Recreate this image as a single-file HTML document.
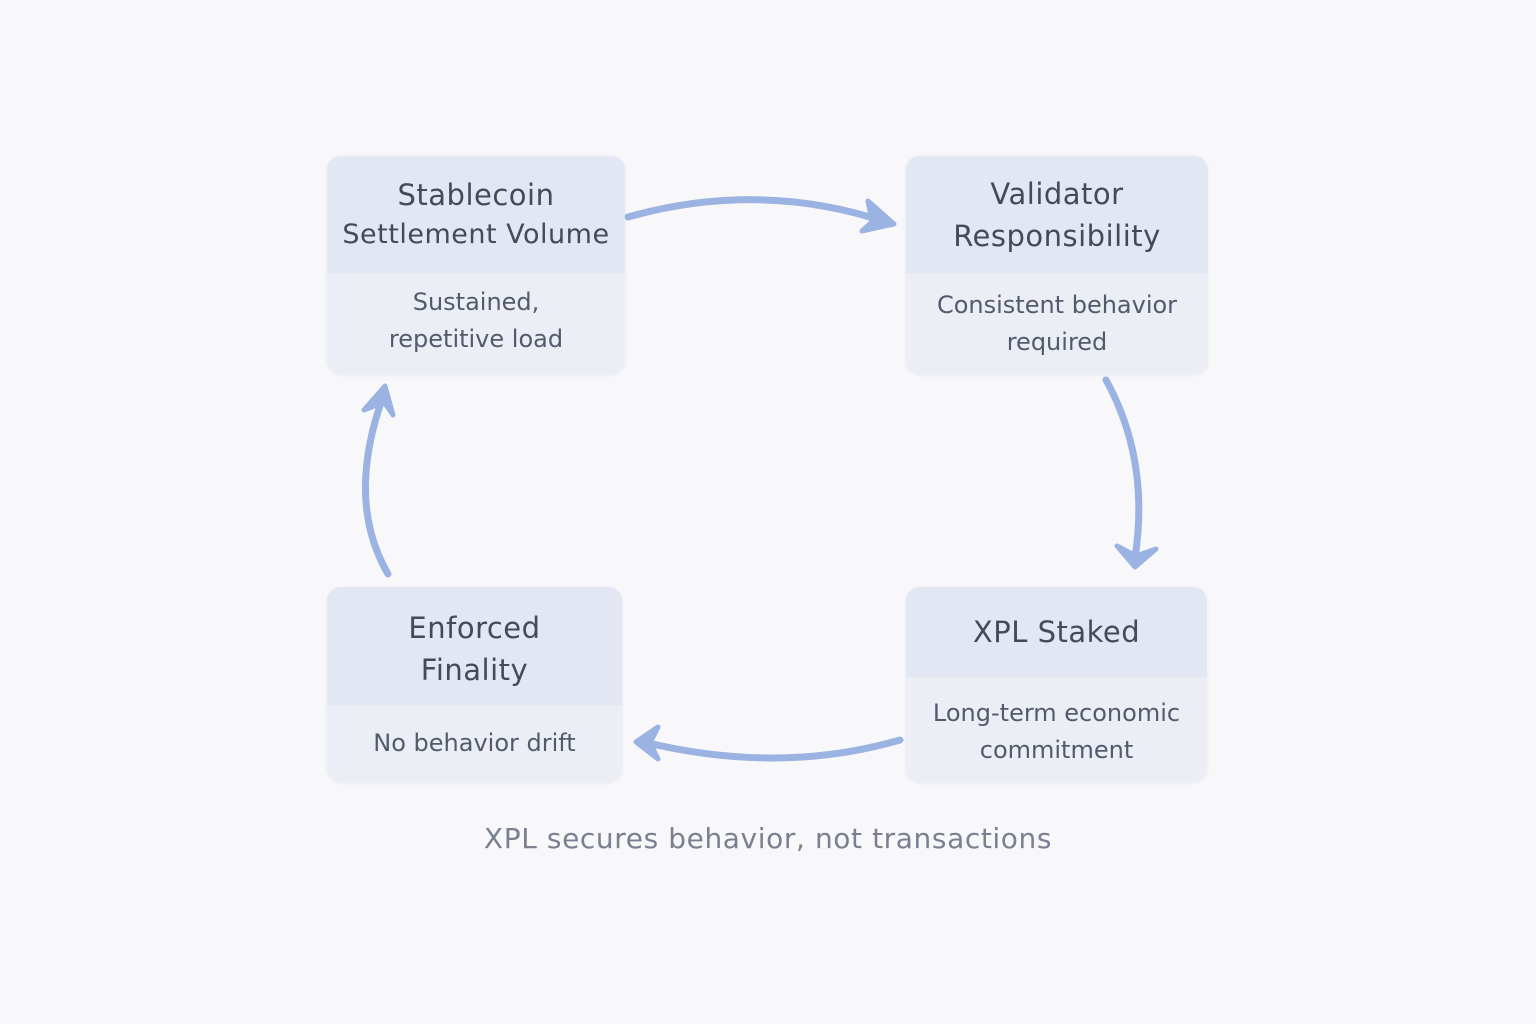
<!DOCTYPE html>
<html><head><meta charset="utf-8"><style>
html,body{margin:0;padding:0}
body{width:1536px;height:1024px;background:#f8f7fa;position:relative;overflow:hidden;font-family:"DejaVu Sans","Liberation Sans",sans-serif;color:#434a5c}
.box{position:absolute;border-radius:14px;overflow:hidden;background:#eceef5;box-shadow:0 1px 3px rgba(150,160,190,0.15)}
.hd{position:absolute;left:0;right:0;top:0;background:#e3e7f3;display:flex;flex-direction:column;justify-content:center;align-items:center;text-align:center;font-size:29px;line-height:42px;letter-spacing:0.5px}
.bd{position:absolute;left:0;right:0;bottom:0;display:flex;flex-direction:column;justify-content:center;align-items:center;text-align:center;font-size:24px;line-height:37px;color:#525a6c}
.cap{position:absolute;left:0;width:1536px;text-align:center;top:822px;font-size:28px;color:#7a8090;letter-spacing:0.6px}
</style></head><body>
<svg width="1536" height="1024" style="position:absolute;left:0;top:0">
<g fill="none" stroke="#9bb3e2" stroke-width="7" stroke-linecap="round" stroke-linejoin="round">
<path d="M628 217 Q760 180 886 222"/>
<path d="M1106 380 Q1150 460 1135 558"/>
<path d="M900 740 Q780 775 644 742"/>
<path d="M388 574 Q345 500 384 394"/>
</g>
<g fill="#9bb3e2" stroke="#9bb3e2" stroke-width="5" stroke-linejoin="round">
<path d="M868 201 L894 224 L862 231 L872 222 Z"/>
<path d="M1117 546 L1135 567 L1156 549 L1136 556 Z"/>
<path d="M658 727 L636 742 L658 759 L650 743 Z"/>
<path d="M364 410 L385 386 L393 415 L384 402 Z"/>
</g>
</svg>
<div class="box" style="left:327px;top:156px;width:298px;height:218px">
<div class="hd" style="height:117px;font-size:29px;line-height:40px"><div>Stablecoin</div><div style="font-size:27px">Settlement Volume</div></div>
<div class="bd" style="height:101px;padding-bottom:3px"><div>Sustained,</div><div>repetitive load</div></div>
</div>
<div class="box" style="left:906px;top:156px;width:302px;height:218px">
<div class="hd" style="height:117px"><div>Validator</div><div>Responsibility</div></div>
<div class="bd" style="height:101px"><div>Consistent behavior</div><div>required</div></div>
</div>
<div class="box" style="left:327px;top:587px;width:295px;height:195px">
<div class="hd" style="height:118px;padding-top:6px;box-sizing:border-box"><div>Enforced</div><div>Finality</div></div>
<div class="bd" style="height:77px"><div>No behavior drift</div></div>
</div>
<div class="box" style="left:906px;top:587px;width:301px;height:195px">
<div class="hd" style="height:90px"><div>XPL Staked</div></div>
<div class="bd" style="height:105px;padding-top:5px;box-sizing:border-box"><div>Long-term economic</div><div>commitment</div></div>
</div>
<div class="cap">XPL secures behavior, not transactions</div>
</body></html>
